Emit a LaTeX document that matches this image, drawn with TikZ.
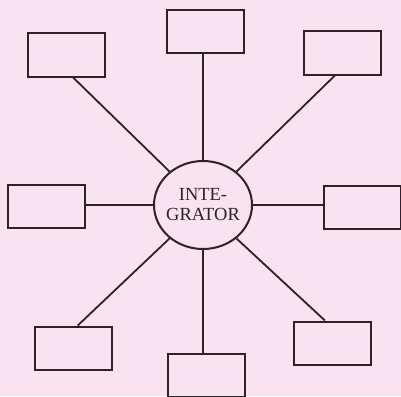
\documentclass[tikz,border=0pt]{standalone}
\usepackage{fontspec}
\setmainfont{Liberation Serif}
\usetikzlibrary{calc,shapes.geometric}
\definecolor{paper}{RGB}{250,227,240}
\definecolor{ink}{RGB}{45,34,42}

\begin{document}
\begin{tikzpicture}[x=1pt, y=-1pt, line width=1.8pt, draw=ink,
                    box/.style={rectangle, draw=ink, line width=2pt, minimum width=77pt, minimum height=43pt, inner sep=0pt}]
                    \fill[paper] (0,0) rectangle (401,396);
                    \useasboundingbox (0,0) rectangle (401,396);

                    \node[ellipse, draw=ink, line width=2pt, minimum width=98pt, minimum height=88pt, inner sep=0pt,
                          label={[align=center, font=\fontsize{18.5}{20}\selectfont, text=ink, inner sep=0pt]center:INTE-\\GRATOR}] (int) at (203,205) {};

                    \node[box] (n)  at (205,32) {};
                    \node[box] (nw) at (66,55) {};
                    \node[box] (ne) at (342,53) {};
                    \node[box] (w)  at (46,206) {};
                    \node[box] (e)  at (362,207) {};
                    \node[box] (sw) at (73,348) {};
                    \node[box] (s)  at (206,375) {};
                    \node[box] (se) at (332,343) {};

                    \draw[ink] (int.north) -- (int.north |- n.south);
                    \draw[ink] (int.south) -- (int.south |- s.north);
                    \draw[ink] (int.west) -- (w.east |- int.west);
                    \draw[ink] (int.east) -- (e.west |- int.east);
                    \draw[ink] (int.135) -- ($(nw.south west)!0.59!(nw.south east)$);
                    \draw[ink] (int.45) -- ($(ne.south west)!0.41!(ne.south east)$);
                    \draw[ink] (int.-135) -- ($(sw.north west)!0.56!(sw.north east)$);
                    \draw[ink] (int.-45) -- ($(se.north west)!0.41!(se.north east)$);
                \end{tikzpicture}
\end{document}
